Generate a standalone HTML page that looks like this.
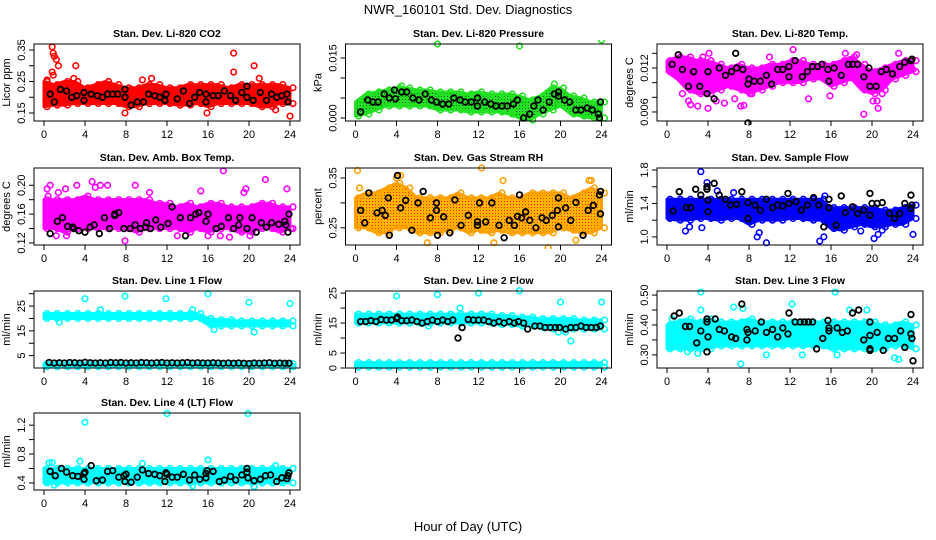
<!DOCTYPE html>
<html><head><meta charset="utf-8"><style>
body{margin:0;background:#fff;}
svg{display:block;font-family:"Liberation Sans",sans-serif;}
</style></head><body>
<svg id="chart" width="936" height="540" viewBox="0 0 936 540" xmlns="http://www.w3.org/2000/svg">
<defs>
<pattern id="rhpat" width="3" height="3" patternUnits="userSpaceOnUse"><rect width="3" height="3" fill="#ffb400"/><rect width="1" height="1" fill="#ff2000"/></pattern>
<pattern id="grpat" width="3" height="3" patternUnits="userSpaceOnUse"><rect width="3" height="3" fill="#22e022"/><rect width="1" height="1" fill="#0a5a0a"/></pattern>
</defs>
<text x="468" y="14" font-size="13" text-anchor="middle">NWR_160101  Std. Dev. Diagnostics</text>
<text x="468" y="531" font-size="13" text-anchor="middle">Hour of Day (UTC)</text>
</svg>
<script>
// ---- data arrays ----
const hours = [0,1,2,3,4,5,6,7,8,9,10,11,12,13,14,15,16,17,18,19,20,21,22,23,24];
const xTicks = [0,4,8,12,16,20,24];

const co2Hi = [0.25,0.24,0.25,0.25,0.23,0.24,0.25,0.24,0.23,0.23,0.24,0.24,0.23,0.23,0.24,0.24,0.24,0.24,0.23,0.24,0.24,0.24,0.24,0.24,0.23];
const co2Lo = [0.17,0.175,0.175,0.18,0.18,0.18,0.18,0.18,0.17,0.17,0.18,0.18,0.18,0.175,0.175,0.18,0.17,0.18,0.18,0.18,0.18,0.17,0.17,0.18,0.18];
const co2Out = [[0.8,0.36],[0.9,0.34],[1.0,0.33],[1.2,0.32],[1.4,0.30],[0.8,0.28],[0.9,0.27],[3.1,0.30],[2.9,0.26],[7.9,0.15],[10.5,0.26],[15.9,0.15],[18.5,0.34],[18.5,0.28],[20.5,0.30],[21.0,0.26],[22.6,0.16],[24.0,0.14],[0.3,0.255],[9.6,0.255]];
const co2Blk = [[0.6,0.21],[1.0,0.185],[1.6,0.225],[2.2,0.22],[2.7,0.2],[3.2,0.205],[3.9,0.215],[3.9,0.19],[4.6,0.21],[5.2,0.205],[5.7,0.2],[6.2,0.21],[6.7,0.21],[7.2,0.21],[7.9,0.2],[7.9,0.225],[8.5,0.175],[9.1,0.185],[9.7,0.185],[10.2,0.21],[10.8,0.205],[11.3,0.2],[11.9,0.21],[11.8,0.19],[13.0,0.195],[13.6,0.22],[14.2,0.18],[14.7,0.2],[15.2,0.215],[15.8,0.185],[15.8,0.21],[16.5,0.205],[17.0,0.205],[17.6,0.22],[18.2,0.205],[18.7,0.19],[19.3,0.215],[19.8,0.235],[19.8,0.2],[20.4,0.19],[21.1,0.215],[21.7,0.19],[22.2,0.21],[22.7,0.2],[23.2,0.205],[23.7,0.21],[23.8,0.185]];

const presHi = [0.004,0.006,0.0065,0.007,0.0075,0.0075,0.007,0.007,0.0065,0.0065,0.0065,0.006,0.0065,0.006,0.006,0.006,0.0055,0.0045,0.0055,0.0075,0.0075,0.0055,0.005,0.004,0.004];
const presLo = [0.0005,0.001,0.002,0.003,0.003,0.003,0.003,0.003,0.002,0.002,0.002,0.0015,0.0015,0.0015,0.0015,0.001,0.0,-0.0005,0.001,0.002,0.003,0.001,0.0005,0.0,0.0];
const presOut = [[8,0.0185],[16,0.018],[24,0.0195],[19.4,0.0085],[4.5,0.008]];
const presBlk = [[0.5,0.0015],[1.2,0.0045],[1.7,0.004],[2.2,0.004],[2.8,0.006],[3.3,0.005],[3.8,0.007],[3.9,0.0048],[4.5,0.0065],[5.0,0.0065],[5.6,0.005],[6.2,0.0045],[6.8,0.006],[7.4,0.0045],[7.9,0.004],[8.5,0.0035],[9.1,0.0035],[9.6,0.005],[10.2,0.0045],[10.7,0.004],[11.3,0.004],[11.9,0.003],[11.9,0.005],[12.6,0.004],[13.2,0.0035],[13.7,0.003],[14.3,0.003],[14.8,0.003],[15.4,0.0035],[15.8,0.0045],[16.4,0.0],[17.0,0.001],[17.4,0.003],[17.8,0.0045],[18.3,0.002],[18.9,0.004],[19.4,0.006],[19.8,0.0055],[19.8,0.0065],[20.4,0.0045],[20.9,0.004],[21.5,0.002],[22.0,0.002],[22.6,0.0025],[23.1,0.002],[23.7,0.001],[23.8,0.0],[23.9,0.004]];

const tempHi = [0.013,0.0135,0.0135,0.013,0.013,0.0125,0.012,0.0125,0.012,0.012,0.0125,0.0125,0.013,0.013,0.0125,0.0125,0.0125,0.013,0.0135,0.0125,0.0115,0.012,0.0125,0.013,0.013];
const tempLo = [0.0115,0.0105,0.009,0.0085,0.0085,0.009,0.0095,0.009,0.0085,0.009,0.0095,0.01,0.01,0.01,0.0105,0.0105,0.0095,0.01,0.0105,0.009,0.0085,0.009,0.0105,0.011,0.0115];
const tempOut = [[1.5,0.0085],[2.1,0.0075],[2.3,0.007],[3,0.0068],[4,0.0065],[4.1,0.014],[4.8,0.0075],[5.6,0.0072],[6.6,0.0078],[7.2,0.0068],[7.5,0.0069],[8.1,0.0085],[10.0,0.0135],[12.3,0.0145],[15.9,0.0082],[17.4,0.014],[18.5,0.0138],[19.2,0.0057],[20.1,0.0075],[20.5,0.0075],[20.6,0.0065],[21.0,0.0085],[22.6,0.014],[24.0,0.0118],[3.5,0.0135],[13.8,0.0078]];
const tempBlk = [[0.5,0.0125],[1.1,0.0138],[1.5,0.0118],[2.1,0.0095],[2.6,0.0115],[3.2,0.0095],[3.9,0.0085],[4.0,0.0115],[4.6,0.0078],[5.1,0.012],[5.7,0.011],[6.3,0.0115],[6.7,0.014],[6.8,0.012],[7.4,0.0118],[7.9,0.0098],[8.0,0.0105],[7.9,0.0045],[8.5,0.0102],[9.1,0.0102],[9.7,0.011],[10.2,0.0098],[10.8,0.0118],[11.3,0.0118],[11.9,0.0108],[11.9,0.0122],[12.5,0.013],[13.2,0.0108],[13.7,0.0115],[14.2,0.0122],[14.7,0.0122],[15.1,0.0125],[15.7,0.0118],[15.8,0.0102],[16.3,0.012],[17.0,0.011],[17.7,0.0125],[18.1,0.0125],[18.6,0.0125],[19.2,0.0108],[19.7,0.012],[19.8,0.0095],[20.4,0.0095],[20.9,0.0115],[21.4,0.0118],[22.0,0.0112],[22.7,0.0122],[23.2,0.0128],[23.8,0.013],[23.9,0.0132]];

const ambHi = [0.18,0.18,0.18,0.18,0.185,0.18,0.18,0.18,0.18,0.18,0.18,0.175,0.175,0.17,0.175,0.17,0.175,0.175,0.17,0.17,0.17,0.175,0.175,0.17,0.17];
const ambLo = [0.14,0.14,0.135,0.14,0.14,0.14,0.14,0.14,0.14,0.135,0.14,0.14,0.14,0.14,0.135,0.14,0.135,0.14,0.14,0.135,0.135,0.14,0.14,0.135,0.14];
const ambOut = [[0.3,0.195],[0.4,0.185],[0.6,0.2],[1.4,0.19],[2.1,0.195],[2.2,0.13],[3.2,0.2],[4.7,0.205],[5.0,0.197],[5.5,0.2],[6.2,0.2],[7.9,0.123],[8.9,0.2],[10.3,0.19],[15.3,0.192],[16.0,0.13],[17.5,0.22],[17.2,0.13],[19.5,0.19],[19.7,0.195],[20.1,0.13],[21.6,0.208],[23.7,0.195],[24.1,0.14],[18.1,0.128],[13.0,0.13],[1.2,0.13]];
const ambBlk = [[0.6,0.133],[1.3,0.15],[1.8,0.155],[2.3,0.143],[2.8,0.142],[2.9,0.14],[3.4,0.137],[4.0,0.135],[4.5,0.142],[4.9,0.145],[5.4,0.133],[5.9,0.155],[6.4,0.14],[6.9,0.158],[6.9,0.16],[7.3,0.162],[7.8,0.14],[8.4,0.14],[8.9,0.145],[9.4,0.14],[9.9,0.142],[10.0,0.148],[10.4,0.14],[10.9,0.152],[11.4,0.142],[12.1,0.147],[12.5,0.17],[13.3,0.155],[13.8,0.13],[14.3,0.155],[14.8,0.16],[15.1,0.162],[15.8,0.15],[16.0,0.16],[16.8,0.14],[17.3,0.143],[18.0,0.155],[18.5,0.14],[19.0,0.145],[19.1,0.155],[19.8,0.14],[20.3,0.155],[20.7,0.135],[21.2,0.148],[21.7,0.142],[22.2,0.148],[22.9,0.146],[23.5,0.15],[23.6,0.145],[23.8,0.135],[23.9,0.16]];

const rhHi = [0.31,0.32,0.32,0.33,0.34,0.33,0.31,0.31,0.31,0.31,0.32,0.31,0.31,0.31,0.32,0.31,0.31,0.32,0.32,0.32,0.32,0.31,0.32,0.33,0.32];
const rhLo = [0.25,0.25,0.24,0.24,0.25,0.25,0.24,0.24,0.24,0.245,0.25,0.24,0.245,0.24,0.245,0.24,0.24,0.24,0.24,0.24,0.25,0.245,0.24,0.24,0.25];
const rhOut = [[0.2,0.365],[0.4,0.33],[4.0,0.35],[4.4,0.355],[7.0,0.22],[12.3,0.37],[13.5,0.22],[14.4,0.345],[18.8,0.21],[21.5,0.225],[22.8,0.345],[23.0,0.345]];
const rhBlk = [[0.5,0.285],[0.9,0.26],[1.3,0.32],[2.1,0.28],[2.6,0.285],[2.9,0.275],[3.2,0.31],[3.3,0.235],[4.1,0.355],[4.4,0.29],[4.9,0.305],[5.5,0.245],[6.1,0.3],[6.6,0.323],[7.3,0.27],[7.9,0.3],[7.9,0.285],[8.0,0.235],[8.6,0.272],[9.2,0.24],[9.7,0.306],[10.3,0.255],[11.0,0.275],[11.9,0.255],[11.9,0.262],[12.1,0.3],[12.7,0.262],[13.3,0.3],[14.0,0.255],[14.5,0.23],[15.0,0.265],[15.5,0.255],[15.8,0.273],[16.0,0.316],[16.2,0.27],[16.6,0.282],[17.0,0.265],[17.6,0.25],[18.2,0.27],[18.6,0.265],[19.2,0.275],[19.7,0.285],[19.8,0.31],[19.8,0.252],[20.5,0.29],[21.0,0.265],[21.5,0.301],[22.2,0.235],[22.7,0.285],[23.2,0.295],[23.8,0.316],[23.9,0.323],[23.9,0.278]];

const sfHi = [1.45,1.45,1.45,1.45,1.45,1.45,1.45,1.45,1.45,1.45,1.45,1.45,1.45,1.45,1.45,1.45,1.35,1.35,1.35,1.35,1.35,1.32,1.32,1.35,1.38];
const sfLo = [1.22,1.2,1.2,1.22,1.22,1.2,1.22,1.22,1.15,1.2,1.2,1.2,1.22,1.22,1.2,1.2,1.1,1.08,1.12,1.15,1.12,1.12,1.15,1.15,1.22];
const sfOut = [[1.8,1.07],[2.2,1.12],[3.3,1.78],[3.4,1.11],[3.9,1.65],[6.5,1.53],[8.8,1.0],[9.0,1.05],[9.7,0.93],[14.9,0.95],[15.3,1.0],[15.4,1.49],[18.9,1.07],[20.2,0.98],[20.6,1.03],[21.0,1.08],[24.0,1.03],[4.9,1.55]];
const sfBlk = [[0.6,1.31],[1.2,1.54],[1.9,1.35],[2.3,1.35],[2.8,1.57],[3.3,1.5],[3.9,1.57],[3.9,1.6],[4.0,1.44],[4.0,1.3],[4.6,1.64],[5.1,1.5],[5.7,1.45],[6.2,1.38],[6.8,1.39],[7.3,1.54],[7.9,1.41],[7.9,1.22],[8.6,1.38],[9.1,1.32],[9.7,1.45],[10.3,1.35],[10.8,1.38],[11.3,1.37],[11.9,1.4],[11.8,1.52],[12.6,1.42],[13.1,1.32],[13.7,1.38],[14.3,1.47],[14.8,1.38],[15.3,1.12],[15.8,1.45],[15.8,1.35],[16.5,1.14],[17.0,1.49],[17.4,1.29],[18.1,1.36],[18.6,1.28],[19.2,1.32],[19.8,1.52],[19.8,1.26],[20.0,1.4],[20.5,1.4],[21.0,1.41],[21.7,1.28],[22.2,1.22],[22.7,1.28],[23.2,1.4],[23.8,1.34],[23.9,1.38],[23.8,1.5]];

const l1Hi = [22,22,22,22,22,22,22,22,22,22,22,22,22,22,22,22,20,19.5,19.5,19,19,19,19,19,19];
const l1Lo = [20,20,20,20,20,20,20,20,20,20,20,20,20,20,20,20,17.5,17,17,17,17,17,17,17,17];
const l1BaseHi = [1.8,1.8,1.8,1.8,1.8,1.8,1.8,1.8,1.8,1.8,1.8,1.8,1.8,1.8,1.8,1.8,1.8,1.8,1.8,1.8,1.8,1.8,1.8,1.8,1.8];
const l1BaseLo = [0.5,0.5,0.5,0.5,0.5,0.5,0.5,0.5,0.5,0.5,0.5,0.5,0.5,0.5,0.5,0.5,0.5,0.5,0.5,0.5,0.5,0.5,0.5,0.5,0.5];
const l1Out = [[4,28],[7.9,29],[11.9,28],[16,30],[20,26.5],[24,26],[1.5,18.5],[5.5,23.5],[14.5,23.5],[16.6,15.5],[20.5,14.5]];
const l1Blk = [[0.5,2.2],[1.0,2.0],[1.5,2.1],[2.0,2.0],[2.5,2.2],[3.0,2.1],[3.5,2.0],[4.0,2.3],[4.5,2.1],[5.0,2.0],[5.5,2.1],[6.0,2.0],[6.5,2.2],[7.0,2.1],[7.5,2.2],[8.0,2.0],[8.5,2.1],[9.0,2.0],[9.5,2.2],[10.0,2.1],[10.5,2.0],[11.0,2.1],[11.5,2.2],[12.0,2.0],[12.5,2.1],[13.0,2.0],[13.5,2.1],[14.0,2.2],[14.5,2.0],[15.0,2.1],[15.5,2.0],[16.0,2.0],[16.5,2.1],[17.0,2.0],[17.5,1.9],[18.0,2.0],[18.5,1.9],[19.0,2.0],[19.5,1.9],[20.0,1.8],[20.5,2.0],[21.0,1.9],[21.5,2.0],[22.0,2.1],[22.5,1.9],[23.0,2.0],[23.5,1.9],[23.9,1.9]];

const l2Hi = [18,18,18,18,18,18,18,18,18,18,18,18,18,18,17.5,17.5,17,17,16.5,16.5,16.5,16.5,16,16,16];
const l2Lo = [15,15,15,15,15,15,15,15,15,15,15,15,15,15,14.5,14.5,14,14,13.5,13,13,13,13,13,13];
const l2BaseHi = [1.8,1.8,1.8,1.8,1.8,1.8,1.8,1.8,1.8,1.8,1.8,1.8,1.8,1.8,1.8,1.8,1.8,1.8,1.8,1.8,1.8,1.8,1.8,1.8,1.8];
const l2BaseLo = [0.3,0.3,0.3,0.3,0.3,0.3,0.3,0.3,0.3,0.3,0.3,0.3,0.3,0.3,0.3,0.3,0.3,0.3,0.3,0.3,0.3,0.3,0.3,0.3,0.3];
const l2Out = [[4,24],[8,24.5],[12,25],[16,25.8],[20,22],[24,22],[21,9],[20.5,12],[19.8,12],[10.2,20],[7.1,14]];
const l2Blk = [[0.5,15.5],[1.0,15.5],[1.5,15.8],[2.0,15.5],[2.5,16.2],[3.0,16],[3.5,16],[4.0,16.5],[4.1,17],[4.5,15.8],[5.0,15.8],[5.5,16],[6.0,15.5],[6.5,15],[7.0,15.5],[7.5,16],[8.0,15.5],[8.5,16],[9.0,15.5],[9.5,16],[10.0,10],[10.4,13.5],[11.0,16.2],[11.5,16],[12.0,16],[12.5,16],[13.0,15.5],[13.5,15],[14.0,15.5],[14.5,15],[15.0,15.5],[15.5,15],[15.9,15.5],[16.4,15],[16.8,13],[17.5,14],[18.0,14],[18.5,13.5],[19.0,13.5],[19.5,13.5],[19.9,13.5],[20.5,13],[21.0,13.5],[21.5,13.5],[22.0,14],[22.5,13.5],[23.0,13.5],[23.5,13.5],[23.9,14]];

const l3Hi = [0.4,0.41,0.42,0.41,0.42,0.41,0.41,0.41,0.42,0.41,0.41,0.41,0.41,0.41,0.41,0.41,0.41,0.41,0.41,0.41,0.41,0.4,0.4,0.41,0.4];
const l3Lo = [0.32,0.32,0.32,0.32,0.32,0.33,0.33,0.33,0.33,0.33,0.33,0.33,0.33,0.33,0.33,0.33,0.32,0.32,0.32,0.32,0.32,0.32,0.33,0.33,0.32];
const l3Out = [[3.3,0.51],[7.2,0.27],[16.4,0.51],[12.2,0.47],[6.5,0.46],[9.7,0.3],[13.2,0.3],[16.6,0.3],[22.2,0.29],[22.6,0.285],[2.0,0.31],[3,0.305],[17.8,0.45],[19.5,0.45],[0.5,0.42],[7.4,0.455],[3.3,0.45]];
const l3Blk = [[0.7,0.43],[1.2,0.44],[1.8,0.395],[2.2,0.395],[2.9,0.34],[3.3,0.38],[3.9,0.31],[3.9,0.41],[3.9,0.42],[4.0,0.36],[4.7,0.42],[5.1,0.385],[5.6,0.38],[6.3,0.36],[6.7,0.355],[7.3,0.47],[7.8,0.385],[7.9,0.375],[7.8,0.35],[8.6,0.38],[9.2,0.41],[9.7,0.375],[10.3,0.385],[10.8,0.36],[11.3,0.39],[11.8,0.37],[11.9,0.44],[12.5,0.41],[13.0,0.41],[13.4,0.41],[13.8,0.41],[14.2,0.41],[14.6,0.32],[15.2,0.355],[15.7,0.415],[15.8,0.38],[15.8,0.39],[16.6,0.39],[17.1,0.375],[17.6,0.38],[18.1,0.44],[18.7,0.45],[19.2,0.35],[19.8,0.315],[19.8,0.32],[19.8,0.41],[19.8,0.365],[20.5,0.375],[21.1,0.315],[21.6,0.355],[22.2,0.355],[22.8,0.38],[23.2,0.325],[23.8,0.37],[23.8,0.435],[23.9,0.355],[24.0,0.28]];

const l4Hi = [0.6,0.6,0.6,0.6,0.6,0.6,0.6,0.6,0.6,0.6,0.6,0.6,0.6,0.6,0.6,0.6,0.6,0.6,0.6,0.6,0.6,0.6,0.6,0.6,0.6];
const l4Lo = [0.4,0.4,0.4,0.4,0.4,0.4,0.4,0.4,0.4,0.4,0.4,0.4,0.4,0.4,0.4,0.4,0.4,0.4,0.4,0.4,0.4,0.4,0.4,0.4,0.4];
const l4Out = [[4,1.24],[12,1.36],[19.9,1.36],[16,0.72],[0.5,0.68],[0.8,0.68],[3.5,0.7],[9.6,0.67],[0.2,0.42],[20.5,0.35],[14.5,0.36],[1,0.37],[22.6,0.64]];
const l4Blk = [[0.6,0.56],[1.1,0.5],[1.7,0.6],[2.2,0.55],[2.8,0.5],[3.3,0.49],[3.9,0.45],[3.9,0.53],[4.0,0.55],[4.6,0.64],[5.1,0.43],[5.7,0.44],[6.2,0.56],[6.7,0.57],[7.3,0.48],[7.8,0.5],[7.9,0.42],[8.0,0.52],[8.5,0.41],[9.1,0.48],[9.6,0.58],[10.2,0.53],[10.8,0.52],[11.3,0.5],[11.8,0.42],[11.9,0.54],[12.0,0.52],[12.5,0.48],[13.0,0.48],[13.6,0.52],[14.2,0.44],[14.7,0.51],[15.2,0.45],[15.8,0.47],[15.8,0.53],[15.9,0.57],[16.5,0.56],[17.1,0.42],[17.6,0.44],[18.2,0.49],[18.7,0.44],[19.3,0.51],[19.8,0.55],[19.8,0.6],[19.9,0.47],[20.5,0.43],[21.1,0.45],[21.6,0.5],[22.1,0.51],[22.7,0.42],[23.2,0.47],[23.7,0.46],[23.8,0.5],[23.9,0.54]];

// ---- rendering ----
const NS = 'http://www.w3.org/2000/svg';
const svg = document.getElementById('chart');
function mk(tag, attrs, parent){const e=document.createElementNS(NS,tag);for(const k in attrs)e.setAttribute(k,attrs[k]);(parent||svg).appendChild(e);return e;}

const colLeft=[34,345.5,657], rowTop=[44,168,291,413], W=266, H=77;
const panels = [
 {name:'co2',title:'Stan. Dev. Li-820 CO2',ylab:'Licor ppm',vmin:0.1246,vmax:0.369,ticks:[0.15,0.2,0.25,0.3,0.35],labels:['0.15','','0.25','','0.35'],col:'#ff0000',fill:'#ff0000',hi:co2Hi,lo:co2Lo,out:co2Out,blk:co2Blk},
 {name:'pressure',title:'Stan. Dev. Li-820 Pressure',ylab:'kPa',vmin:-0.00075,vmax:0.0185,ticks:[0,0.005,0.01,0.015],labels:['0.000','','','0.015'],col:'#22e022',fill:'url(#grpat)',hi:presHi,lo:presLo,out:presOut,blk:presBlk},
 {name:'li820-temp',title:'Stan. Dev. Li-820 Temp.',ylab:'degrees C',vmin:0.00477,vmax:0.01527,ticks:[0.006,0.008,0.010,0.012,0.014],labels:['0.006','','','0.012',''],col:'#ff00ff',fill:'#ff00ff',hi:tempHi,lo:tempLo,out:tempOut,blk:tempBlk},
 {name:'amb-box-temp',title:'Stan. Dev. Amb. Box Temp.',ylab:'degrees C',vmin:0.1172,vmax:0.2239,ticks:[0.12,0.14,0.16,0.18,0.20],labels:['0.12','','0.16','','0.20'],col:'#ff00ff',fill:'#ff00ff',hi:ambHi,lo:ambLo,out:ambOut,blk:ambBlk},
 {name:'gas-stream-rh',title:'Stan. Dev. Gas Stream RH',ylab:'percent',vmin:0.2155,vmax:0.37,ticks:[0.25,0.30,0.35],labels:['0.25','','0.35'],col:'#ffa000',fill:'url(#rhpat)',hi:rhHi,lo:rhLo,out:rhOut,blk:rhBlk},
 {name:'sample-flow',title:'Stan. Dev. Sample Flow',ylab:'ml/min',vmin:0.903,vmax:1.824,ticks:[1.0,1.2,1.4,1.6,1.8],labels:['1.0','','1.4','','1.8'],col:'#0000ff',fill:'#0000ff',hi:sfHi,lo:sfLo,out:sfOut,blk:sfBlk},
 {name:'line1-flow',title:'Stan. Dev. Line 1 Flow',ylab:'ml/min',vmin:0,vmax:31.1,ticks:[5,10,15,20,25,30],labels:['5','','15','','25',''],col:'#00ffff',fill:'#00ffff',hi:l1Hi,lo:l1Lo,hi2:l1BaseHi,lo2:l1BaseLo,out:l1Out,blk:l1Blk},
 {name:'line2-flow',title:'Stan. Dev. Line 2 Flow',ylab:'ml/min',vmin:0,vmax:25.7,ticks:[0,5,10,15,20,25],labels:['0','5','','15','','25'],col:'#00ffff',fill:'#00ffff',hi:l2Hi,lo:l2Lo,hi2:l2BaseHi,lo2:l2BaseLo,out:l2Out,blk:l2Blk},
 {name:'line3-flow',title:'Stan. Dev. Line 3 Flow',ylab:'ml/min',vmin:0.256,vmax:0.5136,ticks:[0.30,0.35,0.40,0.45,0.50],labels:['0.30','','0.40','','0.50'],col:'#00ffff',fill:'#00ffff',hi:l3Hi,lo:l3Lo,out:l3Out,blk:l3Blk},
 {name:'line4-flow',title:'Stan. Dev. Line 4 (LT) Flow',ylab:'ml/min',vmin:0.302,vmax:1.368,ticks:[0.4,0.6,0.8,1.0,1.2],labels:['0.4','','0.8','','1.2'],col:'#00ffff',fill:'#00ffff',hi:l4Hi,lo:l4Lo,out:l4Out,blk:l4Blk}
];

panels.forEach((p,i)=>{
  const L=colLeft[i%3], T=rowTop[Math.floor(i/3)];
  const xs=h=>L+10+h*246/24;
  const ys=v=>T+(p.vmax-v)/(p.vmax-p.vmin)*H;
  const g=mk('g',{});
  
  
  const clip=mk('clipPath',{id:'clip'+i},g); mk('rect',{x:L,y:T-4,width:W,height:H+8},clip);
  const marks=mk('g',{'clip-path':'url(#clip'+i+')'},g);
  function band(hiA,loA,nm){
    let d='';
    hours.forEach((h,k)=>{d+=(k?'L':'M')+xs(h)+','+ys(hiA[k]);});
    for(let k=hours.length-1;k>=0;k--) d+='L'+xs(hours[k])+','+ys(loA[k]);
    const b=mk('path',{d:d+'Z',fill:p.fill,stroke:p.col,'stroke-width':3,'stroke-linejoin':'round'},marks);
    
    
    hours.forEach((h,k)=>{
      [hiA[k],loA[k]].forEach(v=>{
        const c=mk('circle',{cx:xs(h)+3,cy:ys(v),r:2.8,fill:'none',stroke:p.col,'stroke-width':1.6},marks);
        
        
      });
    });
  }
  band(p.hi,p.lo,'colored-point-cloud');
  if(p.hi2) band(p.hi2,p.lo2,'colored-point-cloud-low');
  p.out.forEach(o=>{
    const c=mk('circle',{cx:xs(o[0]),cy:ys(o[1]),r:2.8,fill:'none',stroke:p.col,'stroke-width':1.6},marks);
    
    
  });
  p.blk.forEach(o=>{
    const c=mk('circle',{cx:xs(o[0]),cy:ys(o[1]),r:2.8,fill:'none',stroke:'#000','stroke-width':1.8},marks);
    
    
  });
  const box=mk('rect',{x:L,y:T,width:W,height:H,fill:'none',stroke:'#000','stroke-width':1},g);
  
  
  const tt=mk('text',{x:L+W/2,y:T-7,'font-size':10.5,'font-weight':'bold','text-anchor':'middle'},g);
  tt.textContent=p.title;
  
  
  const yl=mk('text',{x:0,y:0,'font-size':11,'text-anchor':'middle',transform:`translate(${L-24},${T+H/2}) rotate(-90)`},g);
  yl.textContent=p.ylab;
  
  
  xTicks.forEach(t=>{
    mk('line',{x1:xs(t),x2:xs(t),y1:T+H,y2:T+H+5,stroke:'#000'},g);
    const lb=mk('text',{x:xs(t),y:T+H+17,'font-size':11,'text-anchor':'middle'},g);
    lb.textContent=t;
    
    
  });
  p.ticks.forEach((t,k)=>{
    mk('line',{x1:L-5,x2:L,y1:ys(t),y2:ys(t),stroke:'#000'},g);
    if(p.labels[k]){
      const lb=mk('text',{x:0,y:0,'font-size':11,'text-anchor':'middle',transform:`translate(${L-9},${ys(t)}) rotate(-90)`},g);
      lb.textContent=p.labels[k];
      
      
    }
  });
});
</script>
</body></html>
